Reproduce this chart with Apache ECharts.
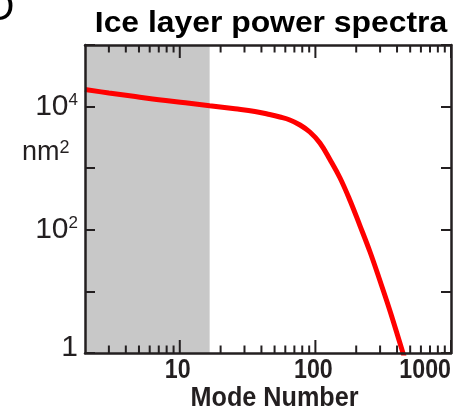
<!DOCTYPE html>
<html><head><meta charset="utf-8">
<script src="https://cdn.jsdelivr.net/npm/echarts@6/dist/echarts.min.js"></script>
<style>html,body{margin:0;padding:0;background:#fff}#c{width:465px;height:409px}</style>
</head><body><div id="c"></div><script>
// ---- data ----
const modes = [2, 3, 4.7, 7, 11, 16.6, 25.5, 35.8, 46, 54.7, 64.8, 77, 91, 108, 128, 152, 180, 213, 253, 299, 355, 420, 498];
const power = [18950, 16630, 14590, 12890, 11530, 10340, 9210, 8330, 7440, 6780, 6060, 5030, 3870, 2570, 1384, 693, 299, 117, 43.6, 15.0, 4.81, 1.45, 0.43];
const shadeRange = [2, 16.6];
const xMajorTicks = [10, 100, 1000];
const xMinorTicks = [3, 4, 5, 6, 7, 8, 9, 20, 30, 40, 50, 60, 70, 80, 90, 200, 300, 400, 500, 600, 700, 800, 900];
const xLabelValues = [10, 100, 1000];
const xLabelTexts = ['10', '100', '1000'];
const yLabelExponents = [0, 2, 4];
const xRange = [2, 1000];
const yRange = [1, 100000];

const INK = '#231f20';
const SANS = '"Liberation Sans",Arial,Helvetica,sans-serif';

const chart = echarts.init(document.getElementById('c'), null, {renderer: 'canvas'});

function isPow10(v, list) {
  const l = Math.log10(v), e = Math.round(l);
  return Math.abs(l - e) < 1e-6 && list.includes(e) ? e : null;
}

const tickData = xMajorTicks.map(v => [v, 1, 1]).concat(xMinorTicks.map(v => [v, 1, 0]));
const xLabelData = xLabelValues.map((v, i) => [v, 1, i]);

chart.setOption({
  animation: false,
  grid: {left: 85, right: 14, top: 45, bottom: 56, containLabel: false},
  xAxis: [{
    type: 'log', logBase: 10, min: xRange[0], max: xRange[1], z: 10,
    axisLine: {show: true, lineStyle: {color: INK, width: 2.5}},
    axisTick: {show: false}, splitLine: {show: false}, minorTick: {show: false},
    axisLabel: {show: false}
  }, {
    type: 'log', logBase: 10, min: xRange[0], max: xRange[1], position: 'top', z: 10,
    axisLine: {show: true, lineStyle: {color: INK, width: 2.5}},
    axisTick: {show: false}, axisLabel: {show: false}, splitLine: {show: false}
  }],
  yAxis: [{
    type: 'log', logBase: 10, min: yRange[0], max: yRange[1], z: 10,
    axisLine: {show: true, lineStyle: {color: INK, width: 2.5}},
    axisTick: {show: true, inside: true, length: 10, lineStyle: {color: INK, width: 2}},
    splitLine: {show: false},
    axisLabel: {
      margin: 7, color: INK, fontSize: 30, fontFamily: SANS,
      formatter: v => { const e = isPow10(v, yLabelExponents); if (e === null) return ''; return e === 0 ? '{one|1}' : '{b|10}{s|' + e + '}'; },
      rich: {
        one: {fontFamily: SANS, fontSize: 30, color: INK, lineHeight: 30, padding: [0, 0, 10, 0]},
        b: {fontFamily: SANS, fontSize: 30, color: INK, lineHeight: 30},
        s: {fontFamily: SANS, fontSize: 17, color: INK, verticalAlign: 'top', lineHeight: 16}
      }
    }
  }, {
    type: 'log', logBase: 10, min: yRange[0], max: yRange[1], position: 'right', z: 10,
    axisLine: {show: true, lineStyle: {color: INK, width: 2.5}},
    axisTick: {show: true, inside: true, length: 10, lineStyle: {color: INK, width: 2}},
    axisLabel: {show: false}, splitLine: {show: false}
  }],
  series: [{
    type: 'line', xAxisIndex: 0, yAxisIndex: 0,
    data: modes.map((m, i) => [m, power[i]]),
    showSymbol: false, smooth: 0.4, clip: true,
    lineStyle: {color: '#ff0000', width: 5},
    itemStyle: {color: '#ff0000'},
    z: 3,
    markArea: {
      silent: true, itemStyle: {color: '#c8c8c8'},
      data: [[{xAxis: shadeRange[0]}, {xAxis: shadeRange[1]}]]
    }
  }, {
    // minor + major ticks on bottom and top edges
    type: 'custom', xAxisIndex: 0, yAxisIndex: 0, z: 6, silent: true, clip: false,
    data: tickData, encode: {x: 0, y: 1},
    renderItem: function (params, api) {
      const v = api.value(0), major = api.value(2);
      const b = api.coord([v, yRange[0]]), t = api.coord([v, yRange[1]]);
      const len = major ? 13 : 7.5;
      return {type: 'group', children: [
        {type: 'line', shape: {x1: b[0], y1: b[1], x2: b[0], y2: b[1] - len}, style: {stroke: INK, lineWidth: 2}},
        {type: 'line', shape: {x1: t[0], y1: t[1], x2: t[0], y2: t[1] + len}, style: {stroke: INK, lineWidth: 2}}
      ]};
    }
  }, {
    // condensed bold x tick labels, placed through the x scale
    type: 'custom', xAxisIndex: 0, yAxisIndex: 0, z: 6, silent: true, clip: false,
    data: xLabelData, encode: {x: 0, y: 1},
    renderItem: function (params, api) {
      const v = api.value(0), i = api.value(2);
      const p = api.coord([v, yRange[0]]);
      const last = i === xLabelValues.length - 1;
      return {type: 'text', x: last ? p[0] : p[0] - 2, y: p[1] + 4.5, scaleX: 0.86,
        style: {text: xLabelTexts[i], fill: INK, font: 'bold 27px ' + SANS,
          textAlign: last ? 'right' : 'center', textVerticalAlign: 'top'}};
    }
  }],
  graphic: [
    {type: 'text', x: 271, y: 23.5, scaleX: 1.08, style: {text: 'Ice layer power spectra', fill: '#000', font: 'bold 29.5px ' + SANS, textAlign: 'center', textVerticalAlign: 'middle'}},
    {type: 'text', x: 274.5, y: 398, scaleX: 0.9, style: {text: 'Mode Number', fill: INK, font: 'bold 28px ' + SANS, textAlign: 'center', textVerticalAlign: 'middle'}},
    {type: 'text', x: 22, y: 153, style: {text: '{a|nm}{s|2}', textVerticalAlign: 'middle', rich: {
      a: {fontFamily: SANS, fontSize: 27, fill: INK, lineHeight: 27},
      s: {fontFamily: SANS, fontSize: 18, fill: INK, verticalAlign: 'top', lineHeight: 10}
    }}},
    {type: 'text', x: 14.5, y: 9, style: {text: 'D', fill: '#000', font: '40px ' + SANS, textAlign: 'right', textVerticalAlign: 'middle'}}
  ]
});
</script></body></html>
